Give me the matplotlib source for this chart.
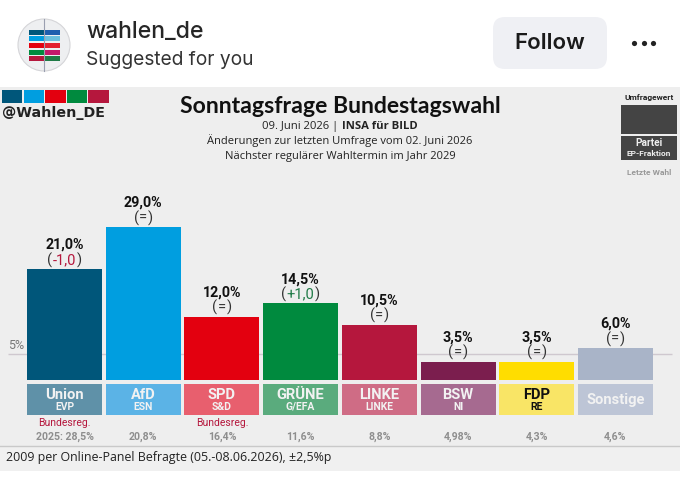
import matplotlib
matplotlib.use("Agg")
import matplotlib.pyplot as plt
from matplotlib.patches import Circle, FancyBboxPatch, Rectangle

parties = ["Union", "AfD", "SPD", "GRÜNE", "LINKE", "BSW", "FDP", "Sonstige"]
groups = ["EVP", "ESN", "S&D", "G/EFA", "LINKE", "NI", "RE", ""]
values = [21.0, 29.0, 12.0, 14.5, 10.5, 3.5, 3.5, 6.0]
value_labels = ["21,0%", "29,0%", "12,0%", "14,5%", "10,5%", "3,5%", "3,5%", "6,0%"]
changes = ["-1,0", "=", "=", "+1,0", "=", "=", "=", "="]
last_vote = ["2025: 28,5%", "20,8%", "16,4%", "11,6%", "8,8%", "4,98%", "4,3%", "4,6%"]
gov = ["Bundesreg.", "", "Bundesreg.", "", "", "", "", ""]
bar_colors = ["#00567a", "#009ee0", "#e3000f", "#008a3e", "#b5173d", "#7b1e4e", "#ffdd00", "#a9b4c8"]
box_colors = ["#5f91a8", "#5bb3e6", "#e85f6e", "#5aab7d", "#cf6c85", "#a66a90", "#f9e566", "#bdc5d6"]
x = list(range(len(parties)))

W, H = 680, 478
fig = plt.figure(figsize=(W / 100, H / 100), dpi=100, facecolor="white")


def px_axes(top, bottom):
    a = fig.add_axes([0, 1 - bottom / H, 1, (bottom - top) / H])
    a.set_xlim(-64.5 / 78.7, (W - 64.5) / 78.7)
    a.axis("off")
    return a


# overlay in pixels for everything around the chart
bg = fig.add_axes([0, 0, 1, 1], zorder=0)
bg.set_xlim(0, W)
bg.set_ylim(H, 0)
bg.axis("off")

bg.add_patch(Rectangle((0, 87), W, 384, color="#eeeeee", lw=0))
bg.add_patch(Rectangle((0, 447), W, 24, color="#f0f0f0", lw=0))
bg.plot([0, W], [446, 446], color="#c9c9c9", lw=1)

# header
bg.add_patch(Circle((44, 45), 26, fc="#eeeff1", ec="#d5d5d8", lw=0.8))
bg.plot([44, 44], [19, 71], color="#9a9fb0", lw=0.8)
left_cols = ["#00567a", "#009ee0", "#e3000f", "#008a3e", "#b5173d"]
right_cols = ["#1f5fae", "#6cc0dd", "#e3202f", "#c2186b", "#1f7a46"]
for i, y in enumerate([29.5, 36, 42.5, 49.5, 56]):
    bg.add_patch(Rectangle((29, y), 14.5, 5, color=left_cols[i], lw=0))
    bg.add_patch(Rectangle((45, y), 15, 5, color=right_cols[i], lw=0))
bg.text(86, 32, "wahlen_de", family="Inter", fontsize=16.6, fontweight="medium", color="#262626", va="center")
bg.text(86, 60, "Suggested for you", family="Inter", fontsize=13.8, color="#333333", va="center")
bg.add_patch(FancyBboxPatch((503, 27), 94, 32, boxstyle="round,pad=10,rounding_size=12", lw=0, fc="#eff0f4"))
bg.text(550, 43, "Follow", family="Inter", fontsize=16, fontweight="semibold", color="#1a1a1a", ha="center", va="center")
bg.scatter([634, 643.5, 653], [43, 43, 43], s=14, color="#222222", lw=0)

# logo top left
for i, c in enumerate(["#00567a", "#009ee0", "#e3000f", "#008a3e", "#b5173d"]):
    bg.add_patch(Rectangle((2 + 21.6 * i, 90), 20.4, 13, color=c, lw=0))
bg.text(2, 112.5, "@Wahlen_DE", family="DejaVu Sans", fontsize=10.3, fontweight="bold", color="#222222", va="center")

# titles
bg.text(340, 106, "Sonntagsfrage Bundestagswahl", family="Lato", fontsize=16.6, fontweight="bold", color="#111111", ha="center", va="center")
bg.text(341, 126, "09. Juni 2026 | ", family="Open Sans", fontsize=8.1, color="#222222", ha="right", va="center")
bg.text(342, 126, "INSA für BILD", family="Open Sans", fontsize=8.1, fontweight="bold", color="#222222", ha="left", va="center")
bg.text(340, 141, "Änderungen zur letzten Umfrage vom 02. Juni 2026", family="Open Sans", fontsize=8.05, color="#222222", ha="center", va="center")
bg.text(340, 156, "Nächster regulärer Wahltermin im Jahr 2029", family="Open Sans", fontsize=8.05, color="#222222", ha="center", va="center")

# legend top right
bg.text(649, 97, "Umfragewert", family="Roboto", fontsize=6, fontweight="bold", color="#222222", ha="center", va="center")
bg.add_patch(Rectangle((621, 105), 56, 29, color="#444444", lw=0))
bg.add_patch(Rectangle((621, 136), 56, 24, color="#444444", lw=0))
bg.text(649, 142.5, "Partei", family="Roboto", fontsize=7.3, fontweight="bold", color="#eeeeee", ha="center", va="center")
bg.text(649, 153.5, "EP-Fraktion", family="Roboto", fontsize=6, fontweight="bold", color="#eeeeee", ha="center", va="center")
bg.text(649, 172.5, "Letzte Wahl", family="Roboto", fontsize=6, fontweight="bold", color="#999999", ha="center", va="center")

# bars
ax = px_axes(87, 380)
ax.set_ylim(0, 293 / 5.28)
ax.patch.set_visible(False)
ax.hlines(5, -0.72, 7.72, color="#cfc8cf", lw=1, zorder=1)
ax.bar(x, values, width=75 / 78.7, color=bar_colors, zorder=2)
ax.text(-0.72, 5.25, "5%", family="Roboto", fontsize=9, color="#777777", ha="left", va="bottom")

fig.canvas.draw()
rend = fig.canvas.get_renderer()
for i in x:
    ax.annotate(value_labels[i], (i, values[i]), xytext=(0, 17.5), textcoords="offset points", family="Roboto",
                fontsize=10.3, fontweight="bold", color="#111111", ha="center", va="center", zorder=4)
    mid = changes[i]
    mid_col = {"-": "#b5173d", "+": "#1f7a46"}.get(mid[0], "#333333")
    kw = dict(xycoords="data", textcoords="offset points", family="Roboto", fontsize=10.5, va="center", zorder=4)
    probe = ax.text(0, 0, mid, family="Roboto", fontsize=10.5)
    mid_w = probe.get_window_extent(rend).width * 0.72
    probe.remove()
    ax.annotate(mid, (i, values[i]), xytext=(0, 6.5), color=mid_col, ha="center", **kw)
    ax.annotate("(", (i, values[i]), xytext=(-mid_w / 2 - 0.4, 6.5), color="#333333", ha="right", **kw)
    ax.annotate(")", (i, values[i]), xytext=(mid_w / 2 + 0.4, 6.5), color="#333333", ha="left", **kw)

# party boxes
ax2 = px_axes(384, 415)
ax2.set_ylim(31, 0)
ax2.bar(x, [31] * len(x), width=75 / 78.7, color=box_colors)
for i in x:
    col = "#111111" if parties[i] == "FDP" else "#f2f2f2"
    if groups[i]:
        ax2.text(i, 11, parties[i], family="Roboto", fontsize=10.6, fontweight="bold", color=col, ha="center", va="center")
        ax2.text(i, 22.5, groups[i], family="Roboto", fontsize=7.5, fontweight="bold", color=col, ha="center", va="center")
    else:
        ax2.text(i, 16, parties[i], family="Roboto", fontsize=10.6, fontweight="bold", color=col, ha="center", va="center")

# below the boxes
ax3 = px_axes(415, 446)
ax3.set_ylim(31, 0)
for i in x:
    ax3.text(i, 8, gov[i], family="Roboto", fontsize=7.5, color="#b5173d", ha="center", va="center")
    ax3.text(i, 22, last_vote[i], family="Roboto", fontsize=7.6, fontweight="bold", color="#8e8e8e", ha="center", va="center")

bg.text(6, 458, "2009 per Online-Panel Befragte (05.-08.06.2026), ±2,5%p", family="Open Sans", fontsize=8.95, color="#222222", va="center")

fig.savefig("out.png", dpi=100)
